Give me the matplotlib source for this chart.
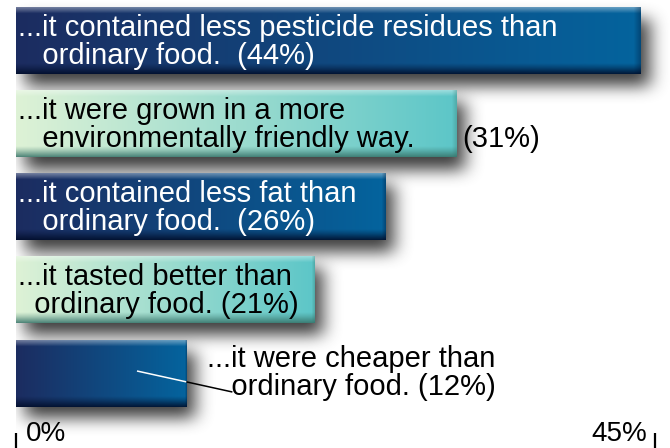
import numpy as np
import matplotlib
matplotlib.use("Agg")
import matplotlib.pyplot as plt
from matplotlib.transforms import ScaledTranslation

plt.rcParams['font.family'] = ['Liberation Sans', 'DejaVu Sans']

# ---------------- data ----------------
values = [44, 31, 26, 21, 12]
labels = [
    "...it contained less pesticide residues than\n   ordinary food.  (44%)",
    "...it were grown in a more\n   environmentally friendly way.",
    "...it contained less fat than\n   ordinary food.  (26%)",
    "...it tasted better than\n  ordinary food. (21%)",
    "...it were cheaper than\n   ordinary food. (12%)",
]
outside_pct = [None, "(31%)", None, None, None]
styles = ["dark", "light", "dark", "light", "dark"]
tick_vals = [0, 45]
tick_labels = ["0%", "45%"]

# ---------------- layout ----------------
W, H, DPI = 670, 448, 100
px_per_unit = 14.2
left_px = 16
fig = plt.figure(figsize=(W / DPI, H / DPI), dpi=DPI)
ax = fig.add_axes([left_px / W, 0, 1 - left_px / W, 1])
xmax = (W - left_px) / px_per_unit
cat_px = 83.0
ytop = -41 / cat_px
ybot = (H - 41) / cat_px
bar_h = 67 / cat_px

ypos = np.arange(len(values))
bars = ax.barh(ypos, values, height=bar_h, color='none', edgecolor='none', zorder=3)

# ---------------- shadows (soft drop shadow, pixel grid) ----------------
ny, nx = H, W - left_px
mask = np.zeros((ny, nx))
dxp, dyp = 9, 12
for b in bars:
    c0 = int(round(b.get_x() * px_per_unit)) + dxp
    c1 = int(round((b.get_x() + b.get_width()) * px_per_unit)) + dxp
    r0 = int(round((b.get_y() - ytop) * cat_px)) + dyp
    r1 = int(round((b.get_y() + b.get_height() - ytop) * cat_px)) + dyp
    mask[max(r0, 0):min(r1, ny), max(c0, 0):min(c1, nx)] = 1.0

def blur1d(a, k, axis):
    ker = np.ones(k) / k
    return np.apply_along_axis(lambda r: np.convolve(r, ker, mode='same'), axis, a)

sh = mask
for _ in range(3):
    sh = blur1d(sh, 17, 1)
    sh = blur1d(sh, 15, 0)
rgba = np.zeros((ny, nx, 4))
rgba[..., 0] = 0.25
rgba[..., 1] = 0.25
rgba[..., 2] = 0.25
rgba[..., 3] = np.clip(sh, 0, 1)
ax.imshow(rgba, extent=(0, xmax, ybot, ytop), origin='upper', aspect='auto',
          zorder=1, interpolation='nearest')

# ---------------- gradient bars ----------------
pal = {
    "dark": (np.array([28, 44, 96]), np.array([4, 100, 158]),
             np.array([0, 12, 40])),
    "light": (np.array([222, 242, 214]), np.array([92, 198, 200]),
              np.array([55, 115, 105])),
}

def bar_image(style, n=300, m=80):
    cl, cr, cdark = pal[style]
    t = np.linspace(0, 1, n)[None, :, None]
    base = cl[None, None, :] * (1 - t) + cr[None, None, :] * t
    base = np.repeat(base, m, axis=0)
    v = np.linspace(0, 1, m)[:, None, None]
    hi = np.clip(1 - v / 0.09, 0, 1) * 0.38
    img = base * (1 - hi) + 255 * hi
    lo = np.clip((v - 0.84) / 0.16, 0, 1) ** 1.2 * 0.85
    img = img * (1 - lo) + cdark[None, None, :] * lo
    redge = np.clip((np.linspace(0, 1, n) - 0.99) / 0.01, 0, 1)[None, :, None] * 0.3
    img = img * (1 - redge) + cdark[None, None, :] * redge
    return np.clip(img / 255.0, 0, 1)

for b, st in zip(bars, styles):
    x0, w = b.get_x(), b.get_width()
    y0, h = b.get_y(), b.get_height()
    ax.imshow(bar_image(st), extent=(x0, x0 + w, y0 + h, y0), origin='upper',
              aspect='auto', zorder=2, interpolation='bilinear')

# ---------------- labels ----------------
fs = 21
ls = 0.98
for i, (b, lab, st, v) in enumerate(zip(bars, labels, styles, values)):
    yc = b.get_y() + b.get_height() / 2
    col = 'white' if st == 'dark' else 'black'
    inside = i != len(values) - 1
    if inside:
        ax.text(b.get_x() + 2 / px_per_unit, yc + 1 / cat_px, lab, color=col, fontsize=fs,
                va='center', ha='left', linespacing=ls, zorder=5)
        if outside_pct[i]:
            ax.text(v + 6 / px_per_unit, yc + 1 / cat_px, " \n" + outside_pct[i], color='black',
                    fontsize=fs, va='center', ha='left', linespacing=ls, zorder=5)
    else:
        tx = v + 21 / px_per_unit
        ax.text(tx, yc, lab, color='black', fontsize=fs, va='center', ha='left',
                linespacing=ls, zorder=5)
        lx0, ly0 = v * 0.71, yc - 2 / cat_px
        lx1, ly1 = tx + 25 / px_per_unit, yc + 19 / cat_px
        ymid = ly0 + (v - lx0) / (lx1 - lx0) * (ly1 - ly0)
        ax.plot([lx0, v], [ly0, ymid], color='white', lw=1.1, zorder=6,
                solid_capstyle='butt')
        ax.plot([v, lx1], [ymid, ly1], color='black', lw=1.1, zorder=6,
                solid_capstyle='butt')

# ---------------- axes ----------------
ax.set_xlim(0, xmax)
ax.set_ylim(ybot, ytop)
for s in ax.spines.values():
    s.set_visible(False)
ax.set_yticks([])
ax.set_xticks(tick_vals)
ax.set_xticklabels(tick_labels, fontsize=fs - 1)
ax.tick_params(axis='x', direction='in', length=11, width=1.6, color='black',
               pad=-19.5)
tl = ax.get_xticklabels()
tl[0].set_ha('left')
tl[0].set_transform(tl[0].get_transform() + ScaledTranslation(10 / DPI, 0, fig.dpi_scale_trans))
tl[1].set_ha('right')
tl[1].set_transform(tl[1].get_transform() + ScaledTranslation(-8 / DPI, 0, fig.dpi_scale_trans))

fig.savefig("out.png", dpi=DPI)
